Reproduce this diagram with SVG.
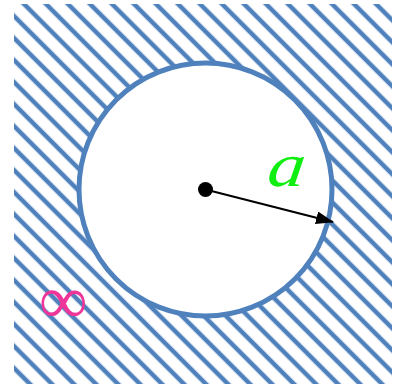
<svg xmlns="http://www.w3.org/2000/svg" width="396" height="384" viewBox="0 0 396 384">
<defs>
<pattern id="hatch" patternUnits="userSpaceOnUse" width="15.56" height="15.56" patternTransform="rotate(-45) translate(6.36 0)">
<rect x="5.53" y="0" width="4.5" height="15.56" fill="#4f81bd"/>
</pattern>
<marker id="arrow" viewBox="0 0 18 13" refX="17" refY="6.5" markerWidth="18" markerHeight="13" markerUnits="userSpaceOnUse" orient="auto">
<path d="M0,0 L18,6.5 L0,13 Z" fill="#000"/>
</marker>
</defs>
<style>
.lbl{font-family:"Liberation Serif","DejaVu Serif",serif;font-style:italic}
</style>
<g id="region">
<rect x="14" y="4" width="378" height="380" fill="url(#hatch)"/>
</g>
<g id="circle">
<circle cx="205.5" cy="189.5" r="126.5" fill="#fff" stroke="#4f81bd" stroke-width="5"/>
</g>
<g id="connectors">
<line x1="205.5" y1="189.5" x2="333" y2="222" stroke="#000" stroke-width="2.2" marker-end="url(#arrow)"/>
</g>
<g id="center">
<circle cx="205.5" cy="189.5" r="7.5" fill="#000"/>
</g>
<g id="label-a">
<text class="lbl" x="0" y="0" font-size="62" fill="#11ee11" transform="translate(266 186) scale(1.2 1) skewX(-6)">a</text>
</g>
<g id="label-inf">
<text x="39" y="323" font-family="Liberation Serif,DejaVu Serif,serif" font-size="68" fill="#f0359a">∞</text>
</g>
</svg>
